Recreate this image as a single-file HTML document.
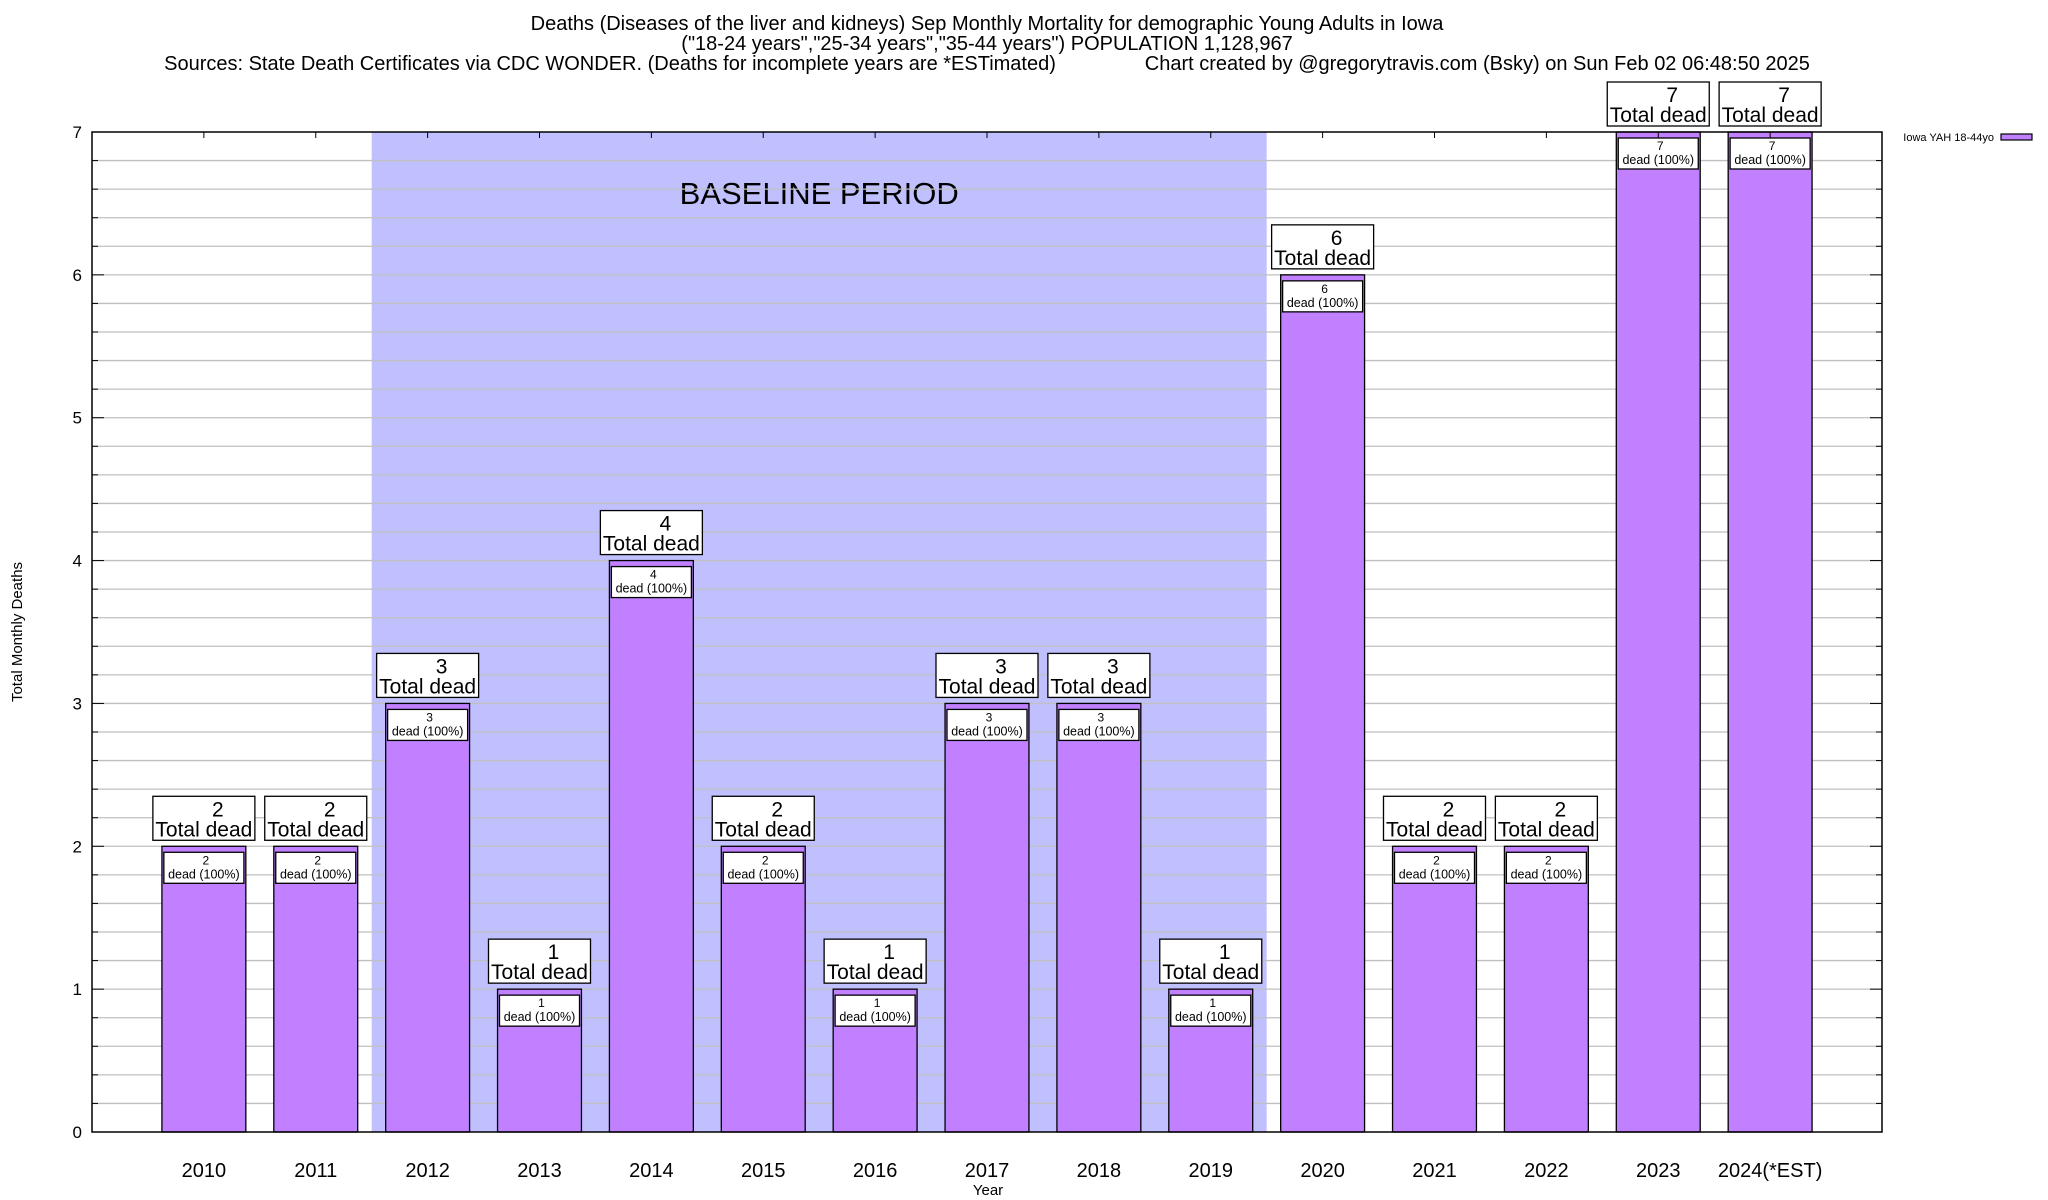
<!DOCTYPE html>
<html><head><meta charset="utf-8"><style>
html,body{margin:0;padding:0;background:#fff;}
svg{display:block;font-family:"Liberation Sans",sans-serif;}
</style></head><body>
<svg id="chart" width="2048" height="1200" viewBox="0 0 2048 1200" xmlns="http://www.w3.org/2000/svg">
<g font-size="20" text-anchor="middle" fill="#000">
<text x="987" y="30">Deaths (Diseases of the liver and kidneys) Sep Monthly Mortality for demographic Young Adults in Iowa</text>
<text x="987" y="50">("18-24 years","25-34 years","35-44 years") POPULATION 1,128,967</text>
<text x="987" y="70" xml:space="preserve">Sources: State Death Certificates via CDC WONDER. (Deaths for incomplete years are *ESTimated)                Chart created by @gregorytravis.com (Bsky) on Sun Feb 02 06:48:50 2025</text>
</g>
<g id="plot"></g>
</svg>
<script>
const categories = ["2010","2011","2012","2013","2014","2015","2016","2017","2018","2019","2020","2021","2022","2023","2024(*EST)"];
const deaths = [2,2,3,1,4,2,1,3,3,1,6,2,2,7,7];
const yTicks = [0,1,2,3,4,5,6,7];
const baselineStart = 2, baselineEnd = 9;

const NS = "http://www.w3.org/2000/svg";
const L = 92, R = 1882, T = 132, B = 1132;
const yMax = 7;
const xMin = -1, xMax = 15;
function X(v){ return L + (v - xMin) / (xMax - xMin) * (R - L); }
function Y(v){ return B - v / yMax * (B - T); }
const plot = document.getElementById('plot');
function el(tag, attrs, parent, text){
  const e = document.createElementNS(NS, tag);
  for (const k in attrs) e.setAttribute(k, attrs[k]);
  if (text !== undefined) e.textContent = text;
  (parent || plot).appendChild(e);
  return e;
}

const bl = el('rect', {x: X(baselineStart - 0.5), y: T, width: X(baselineEnd + 0.5) - X(baselineStart - 0.5), height: B - T, fill: '#c0c0ff'});


const blt = el('text', {x: (X(baselineStart - 0.5) + X(baselineEnd + 0.5)) / 2, y: 204, 'font-size': 31, 'text-anchor': 'middle'}, plot, 'BASELINE PERIOD');



for (let i = 1; i < yMax * 5; i++) {
  const v = i / 5;
  const g = el('line', {x1: L, x2: R, y1: Y(v), y2: Y(v), stroke: '#c0c0c0', 'stroke-width': 1.3});
  
  
  const tl = el('line', {x1: L, x2: L + (i % 5 === 0 ? 12 : 6), y1: Y(v), y2: Y(v), stroke: '#000'});
  
  
  const tr = el('line', {x1: R, x2: R - (i % 5 === 0 ? 12 : 6), y1: Y(v), y2: Y(v), stroke: '#000'});
  
  
}
yTicks.forEach(v => {
  const t = el('text', {x: L - 10, y: Y(v) + 6, 'font-size': 17, 'text-anchor': 'end'}, plot, String(v));
  
  
});

const bw = 0.75;
categories.forEach((c, i) => {
  const v = deaths[i];
  const x0 = X(i - bw / 2), x1 = X(i + bw / 2), yt = Y(v);
  const b = el('rect', {x: x0, y: yt, width: x1 - x0, height: B - yt, fill: '#c080ff', stroke: '#000', 'stroke-width': 1.3});
  
  
  const tt = el('line', {x1: X(i), x2: X(i), y1: T, y2: T + 6, stroke: '#000'});
  
  
  const xl = el('text', {x: X(i), y: 1177, 'font-size': 20, 'text-anchor': 'middle'}, plot, c);
  
  
  const cx = X(i);
  const ob = el('rect', {x: cx - 51, y: yt - 50, width: 102, height: 44, fill: '#fff', stroke: '#000', 'stroke-width': 1.3});
  
  
  const on = el('text', {x: cx + 14, y: yt - 30, 'font-size': 21, 'text-anchor': 'middle'}, plot, String(v));
  
  
  const ot = el('text', {x: cx, y: yt - 10, 'font-size': 21, 'text-anchor': 'middle'}, plot, 'Total dead');
  
  
  const ib = el('rect', {x: cx - 40, y: yt + 6, width: 80, height: 31, fill: '#fff', stroke: '#000', 'stroke-width': 1.3});
  
  
  const inn = el('text', {x: cx + 2, y: yt + 18, 'font-size': 12, 'text-anchor': 'middle'}, plot, String(v));
  
  
  const it = el('text', {x: cx, y: yt + 32, 'font-size': 12.5, 'text-anchor': 'middle'}, plot, 'dead (100%)');
  
  
});

const fr = el('rect', {x: L, y: T, width: R - L, height: B - T, fill: 'none', stroke: '#000', 'stroke-width': 1.5});



const xt = el('text', {x: 988, y: 1195, 'font-size': 15, 'text-anchor': 'middle'}, plot, 'Year');


const yt2 = el('text', {x: 0, y: 0, 'font-size': 15, 'text-anchor': 'middle', transform: 'translate(22,632) rotate(-90)'}, plot, 'Total Monthly Deaths');



const lg = el('text', {x: 1994, y: 141, 'font-size': 11, 'text-anchor': 'end'}, plot, 'Iowa YAH 18-44yo');


const ls = el('rect', {x: 2001, y: 134, width: 31, height: 6, fill: '#c080ff', stroke: '#000', 'stroke-width': 1.2});


</script>
</body></html>
